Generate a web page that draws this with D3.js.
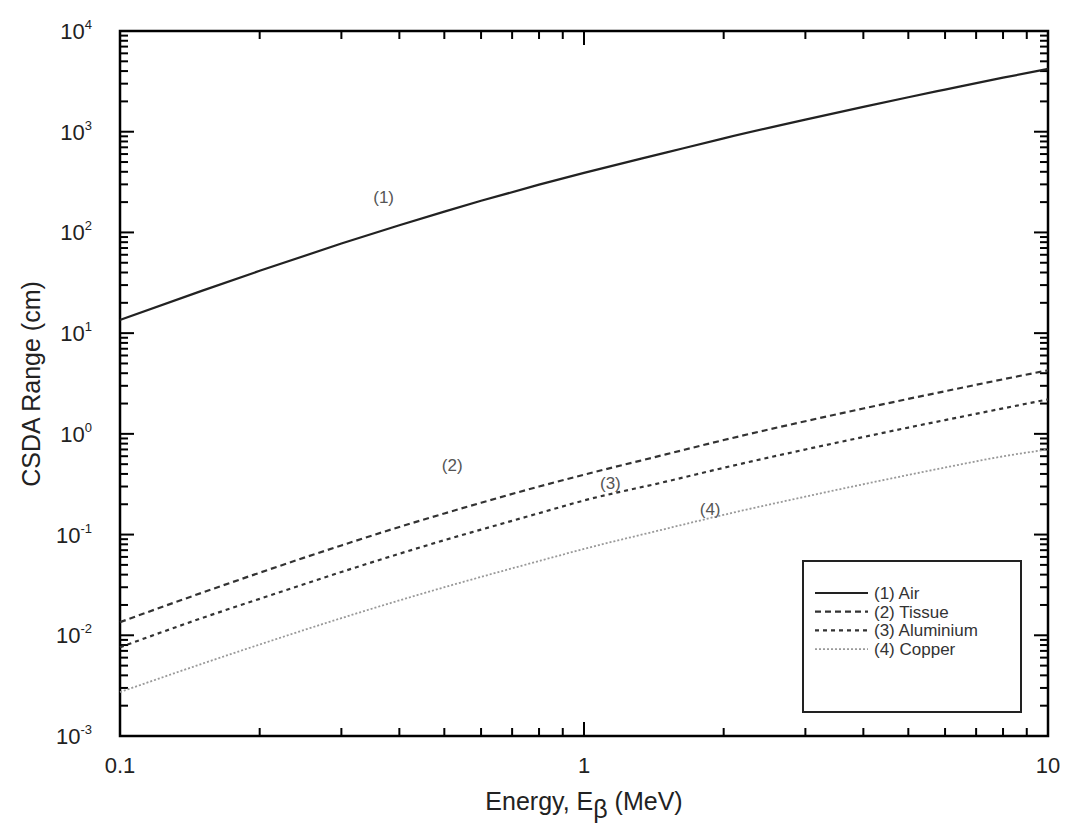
<!DOCTYPE html>
<html>
<head>
<meta charset="utf-8">
<script src="https://cdn.jsdelivr.net/npm/d3@7"></script>
<style>
  body { margin: 0; background: #fff; }
  text { font-family: "Liberation Sans", Arial, sans-serif; }
</style>
</head>
<body>
<svg width="1075" height="838"></svg>
<script>
// energies in MeV
const energy = [0.1, 0.15, 0.2, 0.3, 0.4, 0.5, 0.6, 0.8, 1, 1.5, 2, 3, 4, 5, 6, 8, 10];

// CSDA range in cm
const air =       [13.5, 26.3, 41.6, 77.5, 118, 161, 206, 298, 390, 620, 860, 1320, 1765, 2200, 2620, 3440, 4200];
const tissue =    [0.0135, 0.0264, 0.0418, 0.078, 0.119, 0.162, 0.207, 0.300, 0.393, 0.625, 0.868, 1.335, 1.785, 2.225, 2.65, 3.48, 4.28];
const aluminium = [0.0076, 0.0148, 0.0230, 0.0425, 0.0645, 0.088, 0.112, 0.163, 0.218, 0.335, 0.460, 0.700, 0.930, 1.155, 1.37, 1.79, 2.20];
const copper =    [0.00273, 0.0052, 0.0081, 0.0148, 0.0222, 0.0300, 0.0380, 0.0546, 0.0720, 0.1140, 0.157, 0.238, 0.316, 0.391, 0.463, 0.598, 0.70];

const seriesNames = ['(1) Air', '(2) Tissue', '(3) Aluminium', '(4) Copper'];
const curveTags = ['(1)', '(2)', '(3)', '(4)'];
const tagEnergy = [0.37, 0.52, 1.14, 1.87];   // where the (n) tags sit along x
const tagValue  = [224, 0.49, 0.324, 0.178];   // and at which range

const xTickLabels = ['0.1', '1', '10'];
const yExponents = [-3, -2, -1, 0, 1, 2, 3, 4];

const svg = d3.select('svg');
const margin = {left: 120, top: 31, right: 1048, bottom: 736};

const x = d3.scaleLog().domain([0.1, 10]).range([margin.left, margin.right]);
const y = d3.scaleLog().domain([1e-3, 1e4]).range([margin.bottom, margin.top]);

const styles = [
  {color: '#222', width: 2.2, dash: null},
  {color: '#333', width: 2.2, dash: '6,4'},
  {color: '#333', width: 2.2, dash: '4,4'},
  {color: '#999', width: 1.8, dash: '2,2'}
];

// minor/major ticks
const xMinor = [], yMinor = [];
[0.1, 1].forEach(d => { for (let k = 2; k <= 9; k++) xMinor.push(d * k); });
yExponents.slice(0, -1).forEach(e => { for (let k = 2; k <= 9; k++) yMinor.push(Math.pow(10, e) * k); });
const xMajor = [0.1, 1, 10];
const yMajor = yExponents.map(e => Math.pow(10, e));

const ticks = svg.append('g').attr('stroke', '#000').attr('stroke-width', 2);
const majorLen = 14, minorLen = 8;

xMajor.concat(xMinor).forEach(v => {
  const len = xMajor.includes(v) ? majorLen : minorLen;
  ticks.append('line').attr('x1', x(v)).attr('x2', x(v)).attr('y1', margin.bottom).attr('y2', margin.bottom - len);
  ticks.append('line').attr('x1', x(v)).attr('x2', x(v)).attr('y1', margin.top).attr('y2', margin.top + len);
});
yMajor.concat(yMinor).forEach(v => {
  const len = yMajor.includes(v) ? majorLen : minorLen;
  ticks.append('line').attr('y1', y(v)).attr('y2', y(v)).attr('x1', margin.left).attr('x2', margin.left + len);
  ticks.append('line').attr('y1', y(v)).attr('y2', y(v)).attr('x1', margin.right).attr('x2', margin.right - len);
});

// frame
svg.append('rect')
  .attr('x', margin.left).attr('y', margin.top)
  .attr('width', margin.right - margin.left).attr('height', margin.bottom - margin.top)
  .attr('fill', 'none').attr('stroke', '#000').attr('stroke-width', 2.5);

// tick labels
svg.append('g').selectAll('text').data(xMajor).enter().append('text')
  .attr('x', d => x(d)).attr('y', 773)
  .attr('text-anchor', 'middle').attr('font-size', 22).attr('fill', '#222')
  .text((d, i) => xTickLabels[i]);

const yl = svg.append('g').selectAll('text').data(yExponents).enter().append('text')
  .attr('x', 92).attr('y', d => y(Math.pow(10, d)) + 8)
  .attr('text-anchor', 'end').attr('font-size', 22).attr('fill', '#222');
yl.append('tspan').text('10');
yl.append('tspan').attr('dy', -10).attr('font-size', 13).text(d => d);

// curves
const data = [air, tissue, aluminium, copper];
const line = d3.line().x(d => x(d[0])).y(d => y(d[1])).curve(d3.curveMonotoneX);
data.forEach((vals, i) => {
  svg.append('path')
    .datum(energy.map((e, j) => [e, vals[j]]))
    .attr('d', line)
    .attr('fill', 'none')
    .attr('stroke', styles[i].color)
    .attr('stroke-width', styles[i].width)
    .attr('stroke-dasharray', styles[i].dash);
});

// curve tags
svg.append('g').selectAll('text').data(curveTags).enter().append('text')
  .attr('x', (d, i) => x(tagEnergy[i])).attr('y', (d, i) => y(tagValue[i]) + 6)
  .attr('text-anchor', 'middle').attr('font-size', 17).attr('fill', '#555')
  .text(d => d);

// legend
const lg = svg.append('g');
lg.append('rect').attr('x', 803).attr('y', 561).attr('width', 218).attr('height', 151)
  .attr('fill', '#fff').attr('stroke', '#222').attr('stroke-width', 2);
seriesNames.forEach((name, i) => {
  const ly = 593 + i * 18.7;
  lg.append('line').attr('x1', 815).attr('x2', 868).attr('y1', ly).attr('y2', ly)
    .attr('stroke', styles[i].color).attr('stroke-width', styles[i].width)
    .attr('stroke-dasharray', styles[i].dash);
  lg.append('text').attr('x', 874).attr('y', ly + 6).attr('font-size', 17).attr('fill', '#333').text(name);
});

// axis titles
svg.append('text')
  .attr('transform', 'translate(40,384) rotate(-90)')
  .attr('text-anchor', 'middle').attr('font-size', 25).attr('fill', '#222')
  .text('CSDA Range (cm)');

const xt = svg.append('text').attr('x', 584).attr('y', 810)
  .attr('text-anchor', 'middle').attr('font-size', 25).attr('fill', '#222');
xt.append('tspan').text('Energy, E');
xt.append('tspan').attr('dy', 8).text('β');
xt.append('tspan').attr('dy', -8).text(' (MeV)');
</script>
</body>
</html>
